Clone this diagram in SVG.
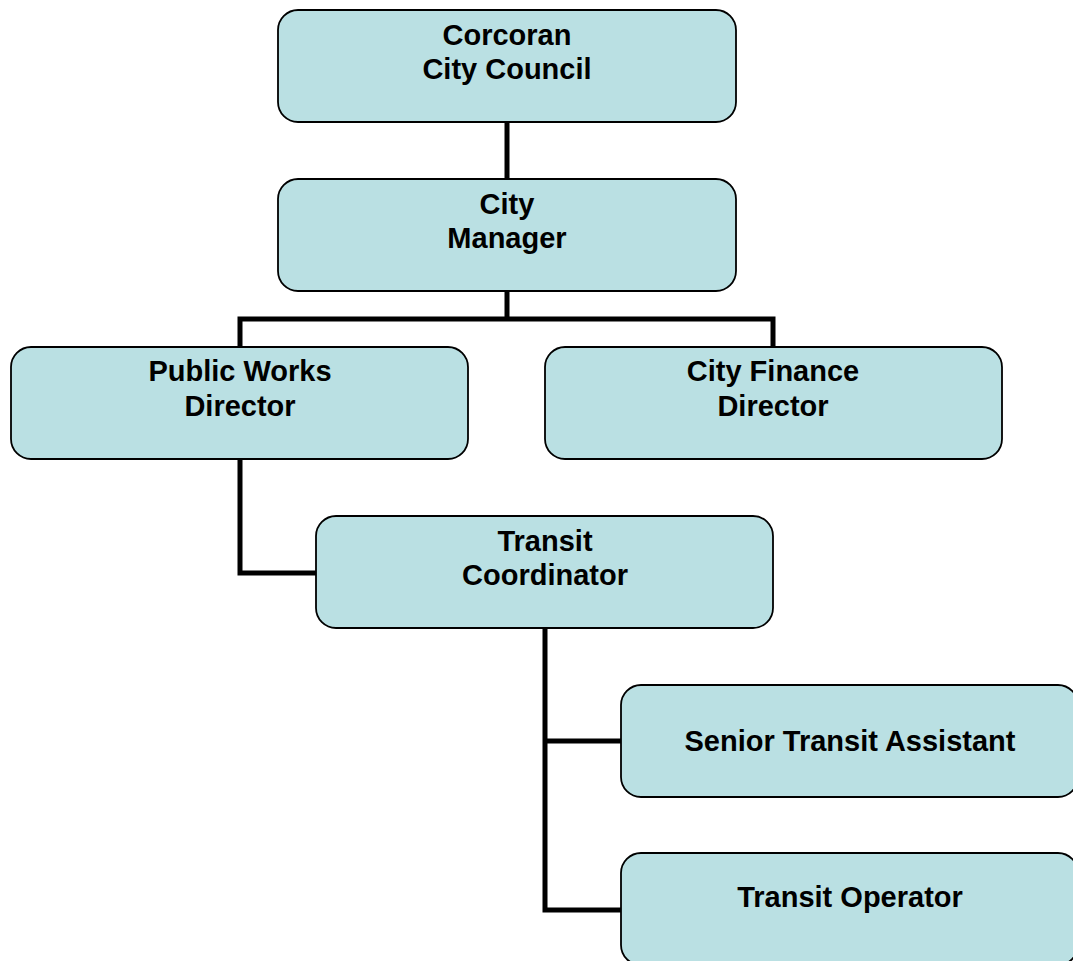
<svg xmlns="http://www.w3.org/2000/svg" width="1073" height="961" viewBox="0 0 1073 961">
<style>
.box{fill:#BAE0E3;stroke:#000;stroke-width:1.8}
.t{font-family:"Liberation Sans",Arial,sans-serif;font-weight:bold;font-size:29px;fill:#000;text-anchor:middle}
.c{fill:none;stroke:#000;stroke-width:5;stroke-linejoin:miter}
</style>
<rect width="1073" height="961" fill="#fff"/>
<g id="connectors">
<path class="c" d="M507 122V179"/>
<path class="c" d="M507 291V319M240 347V319H773V347"/>
<path class="c" d="M240 459V573H316"/>
<path class="c" d="M545 628V910H621M545 741H621"/>
</g>
<g id="council"><rect class="box" x="278" y="10" width="458" height="112" rx="20"/><text class="t" x="507" y="45">Corcoran</text><text class="t" x="507" y="79">City Council</text></g>
<g id="manager"><rect class="box" x="278" y="179" width="458" height="112" rx="20"/><text class="t" x="507" y="214">City</text><text class="t" x="507" y="248">Manager</text></g>
<g id="publicworks"><rect class="box" x="11" y="347" width="457" height="112" rx="20"/><text class="t" x="240" y="381">Public Works</text><text class="t" x="240" y="416">Director</text></g>
<g id="finance"><rect class="box" x="545" y="347" width="457" height="112" rx="20"/><text class="t" x="773" y="381">City Finance</text><text class="t" x="773" y="416">Director</text></g>
<g id="coordinator"><rect class="box" x="316" y="516" width="457" height="112" rx="20"/><text class="t" x="545" y="551">Transit</text><text class="t" x="545" y="585">Coordinator</text></g>
<g id="assistant"><rect class="box" x="621" y="685" width="457" height="112" rx="20"/><text class="t" x="850" y="751">Senior Transit Assistant</text></g>
<g id="operator"><rect class="box" x="621" y="853" width="457" height="112" rx="20"/><text class="t" x="850" y="907">Transit Operator</text></g>
</svg>
